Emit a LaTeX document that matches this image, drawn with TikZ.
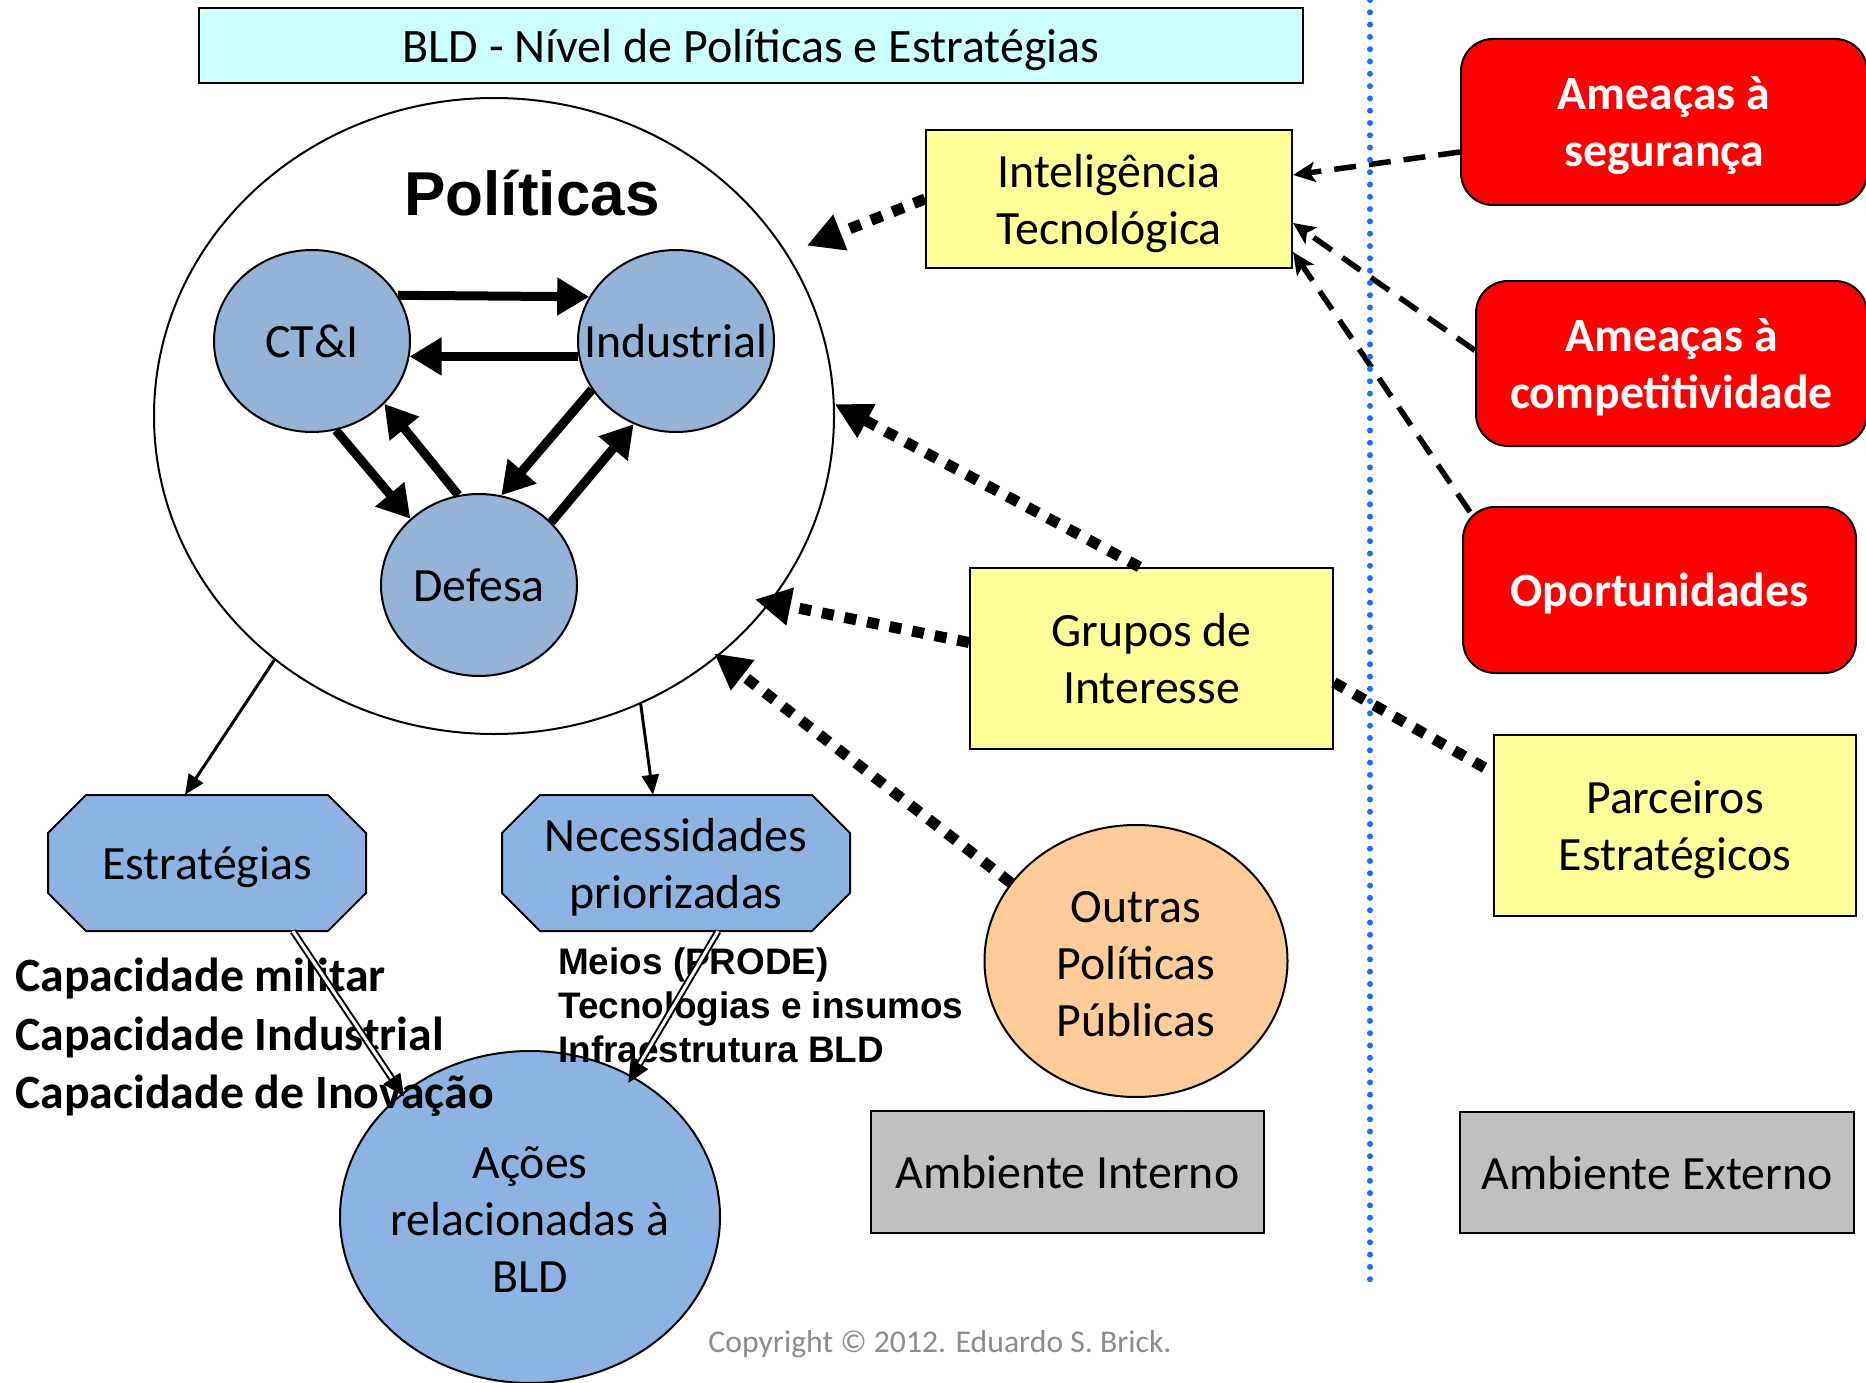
\documentclass[tikz,border=0pt]{standalone}
\usepackage{fontspec}
\setmainfont{Carlito}
\newfontfamily\arialfont{Liberation Sans}
\usetikzlibrary{arrows.meta,shapes.geometric,calc}
\definecolor{titlecyan}{HTML}{CCFFFF}
\definecolor{boxyellow}{HTML}{FFFF99}
\definecolor{boxred}{HTML}{FF0000}
\definecolor{circblue}{HTML}{95B3D7}
\definecolor{octblue}{HTML}{8DB3E2}
\definecolor{peach}{HTML}{FFCC99}
\definecolor{boxgray}{HTML}{C0C0C0}
\definecolor{dotblue}{HTML}{1A6DFF}
\definecolor{copygray}{HTML}{8C8C8C}
\begin{document}
\begin{tikzpicture}[x=1pt,y=-1pt,
  font=\fontsize{47.8}{57}\selectfont,
  every node/.style={inner sep=0pt},
  every label/.style={text depth=0pt},
  box/.style={draw=black, line width=2pt, align=center, text depth=0pt},
  bluecirc/.style={ellipse, draw=black, line width=2pt, fill=circblue, minimum width=196pt, minimum height=182pt},
  redbox/.style={draw=black, line width=2pt, fill=boxred, rounded corners=32pt, text=white, font={\fontsize{47.8}{57}\selectfont\bfseries}, align=center, text depth=0pt},
  octshape/.style={draw=black, line width=2pt, fill=octblue},
  inarrow/.style={line width=9pt, -{Triangle[length=32pt,width=36pt]}},
  thinarrow/.style={line width=3pt, -{Triangle[length=20pt,width=17pt]}},
  dblarrow/.style={line width=2pt, double=white, double distance=3pt, -{Triangle[length=22pt,width=20pt]}},
  dotarrow/.style={line width=11pt, dash pattern=on 12pt off 11pt, -{Triangle[length=36pt,width=36pt]}},
  dotline/.style={line width=11pt, dash pattern=on 12pt off 11pt},
  dasharrow/.style={line width=5.5pt, dash pattern=on 22pt off 13pt, -{Stealth[length=22pt,width=20pt,inset=5pt]}},
]
\useasboundingbox (0,0) rectangle (1866,1383);

% title
\node[box, fill=titlecyan, minimum width=1104pt, minimum height=75pt, font=\fontsize{48}{57}\selectfont] (title) at (751,45.5) {BLD - Nível de Políticas e Estratégias};

% Politicas
\node[ellipse, draw=black, line width=2pt, fill=white, minimum width=680pt, minimum height=636pt] (pol) at (494,416) {};
\node[font={\arialfont\bfseries\fontsize{62}{70}\selectfont}, anchor=base] (poltitle) at (532,216) {Políticas};

\node[bluecirc, label={center:CT\&I}] (ct) at (312,341) {};
\node[bluecirc, label={center:Industrial}] (ind) at (676,341) {};
\node[bluecirc, label={center:Defesa}] (def) at (479,585) {};

\draw[inarrow] (ct.28) -- (ind.153);
\draw[inarrow] (ind.189) -- (ct.351);
\draw[inarrow] (ct.285) -- (def.136);
\draw[inarrow] (def.103) -- (ct.319);
\draw[inarrow] (ind.210) -- (def.76);
\draw[inarrow] (def.41) -- (ind.243);

% yellow boxes
\node[box, fill=boxyellow, minimum width=366pt, minimum height=138pt] (intel) at (1109,199) {Inteligência\\Tecnológica};
\node[box, fill=boxyellow, minimum width=363pt, minimum height=181pt] (grp) at (1151.5,658.5) {Grupos de\\Interesse};
\node[box, fill=boxyellow, minimum width=362pt, minimum height=181pt] (parc) at (1675,825.5) {Parceiros\\Estratégicos};

% red boxes
\node[redbox, minimum width=406pt, minimum height=166pt] (seg) at (1664,122) {Ameaças à\\segurança};
\node[redbox, minimum width=391pt, minimum height=165pt] (comp) at (1671.5,363.5) {Ameaças à\\competitividade};
\node[redbox, minimum width=393pt, minimum height=166pt] (opp) at (1659.5,590) {Oportunidades};

% outras
\node[ellipse, draw=black, line width=2pt, fill=peach, minimum width=303pt, minimum height=272pt, label={[align=center, yshift=-2.5pt]center:Outras\\Políticas\\Públicas}] (outras) at (1136,961) {};

% ambiente
\node[box, fill=boxgray, minimum width=393pt, minimum height=122pt] (ambi) at (1067.5,1172) {Ambiente Interno};
\node[box, fill=boxgray, minimum width=394pt, minimum height=121pt] (ambe) at (1657,1172.5) {Ambiente Externo};

% octagons
\filldraw[octshape] (48,833) -- (86,795) -- (328,795) -- (366,833) -- (366,893) -- (328,931) -- (86,931) -- (48,893) -- cycle;
\filldraw[octshape] (502,833) -- (540,795) -- (812,795) -- (850,833) -- (850,893) -- (812,931) -- (540,931) -- (502,893) -- cycle;
\node[align=center, text depth=0pt, minimum width=318pt, minimum height=136pt] (estr) at (207,863) {Estratégias};
\node[align=center, text depth=0pt, minimum width=348pt, minimum height=136pt] (nec) at (676,863) {Necessidades\\priorizadas};

% acoes
\node[ellipse, draw=black, line width=2pt, fill=octblue, minimum width=380pt, minimum height=332pt, label={[align=center, yshift=-2.5pt]center:Ações\\relacionadas à\\BLD}] (acoes) at (530,1217) {};

% text blocks
\node[anchor=base west, align=left, font={\fontsize{47.8}{58.5}\selectfont\bfseries}] (cap) at (15,1108.5) {Capacidade militar\\Capacidade Industrial\\Capacidade de Inovação};
\node[anchor=base west, align=left, font={\arialfont\bfseries\fontsize{36.9}{44}\selectfont}] (meios) at (558,1062) {Meios (PRODE)\\Tecnologias e insumos\\Infraestrutura BLD};

% arrows politicas -> octagons -> acoes
\draw[thinarrow] (pol.228) -- ($(estr.north)+(-22,0)$);
\draw[thinarrow] (pol.-63) -- ($(nec.north)+(-23,0)$);
\draw[dblarrow, shorten >=-4pt] ($(estr.south)+(86,0)$) -- (acoes.136);
\draw[dblarrow, shorten >=-8pt] ($(nec.south)+(42,0)$) -- (acoes.54);

% dotted arrows
\draw[dotarrow, shorten >=21pt] (intel.west) -- (pol.29);
\draw[dotarrow] ($(grp.north)+(-12,0)$) -- (pol.2);
\draw[dotarrow, shorten >=-16pt] ($(grp.west)+(0,-16)$) -- (pol.-34);
\draw[dotarrow, shorten >=-5pt] (outras.148) -- (pol.-47.5);
\draw[dotline] ($(grp.east)+(0,24)$) -- ($(parc.west)+(0,-53)$);

% dashed arrows
\draw[dasharrow] ($(seg.west)+(0,30)$) -- ($(intel.east)+(0,-24)$);
\draw[dasharrow] ($(comp.west)+(0,-13)$) -- ($(intel.east)+(0,24)$);
\draw[dasharrow] ($(opp.north west)+(8,6)$) -- ($(intel.east)+(0,53)$);

% divider
\coordinate (vtop) at (1370,0);
\coordinate (vbot) at (1370,1285);
\draw[dotblue, line width=6pt, line cap=round, dash pattern=on 0pt off 12.3pt] (vtop) -- (vbot);

% copyright
\node[font=\fontsize{31.7}{37}\selectfont, text=copygray] (copy) at (940,1344) {Copyright © 2012. Eduardo S. Brick.};
\end{tikzpicture}
\end{document}
